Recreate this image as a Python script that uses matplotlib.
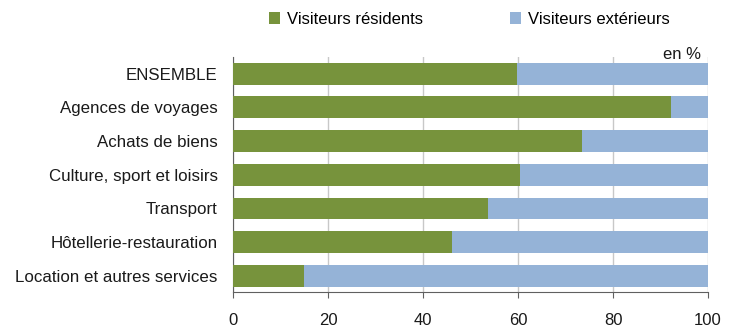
import numpy as np
import matplotlib.pyplot as plt

plt.rcParams['font.family'] = ['Liberation Sans', 'DejaVu Sans']

categories = ["ENSEMBLE", "Agences de voyages", "Achats de biens",
              "Culture, sport et loisirs", "Transport",
              "Hôtellerie-restauration", "Location et autres services"]
residents = [59.8, 92.1, 73.5, 60.4, 53.6, 46.0, 14.9]
exterieurs = [100 - v for v in residents]

green = "#77933C"
blue = "#95B3D7"

fig = plt.figure(figsize=(7.33, 3.27), dpi=100)
ax = fig.add_axes([0.318, 0.107, 0.648, 0.719])

y = np.arange(len(categories))
ax.barh(y, residents, height=0.65, color=green, label="Visiteurs résidents", zorder=3)
ax.barh(y, exterieurs, left=residents, height=0.65, color=blue,
        label="Visiteurs extérieurs", zorder=3)

ax.set_xlim(0, 100)
ax.set_ylim(6.48, -0.5)
ax.set_yticks(y)
ax.set_yticklabels(categories, fontsize=12.2, color="#1a1a1a")
ax.set_xticks([0, 20, 40, 60, 80, 100])
ax.tick_params(axis='x', labelsize=12, pad=11, length=4, color="#606060", labelcolor="#1a1a1a")
ax.tick_params(axis='y', length=0, pad=11)

ax.grid(axis='x', color="#c8c8c8", linewidth=1, zorder=0)
for s in ["top", "right"]:
    ax.spines[s].set_visible(False)
ax.spines["left"].set_color("#606060")
ax.spines["bottom"].set_color("#606060")

ax.text(0.985, 0.99, "en %", transform=ax.transAxes, ha="right", va="baseline",
        fontsize=12, color="#1a1a1a")

fig.legend(loc="center", bbox_to_anchor=(0.64, 0.94), ncol=2, frameon=False,
           fontsize=12, handlelength=0.7, handleheight=0.7, columnspacing=5.2,
           handletextpad=0.4)

fig.savefig("out.png", dpi=100)
